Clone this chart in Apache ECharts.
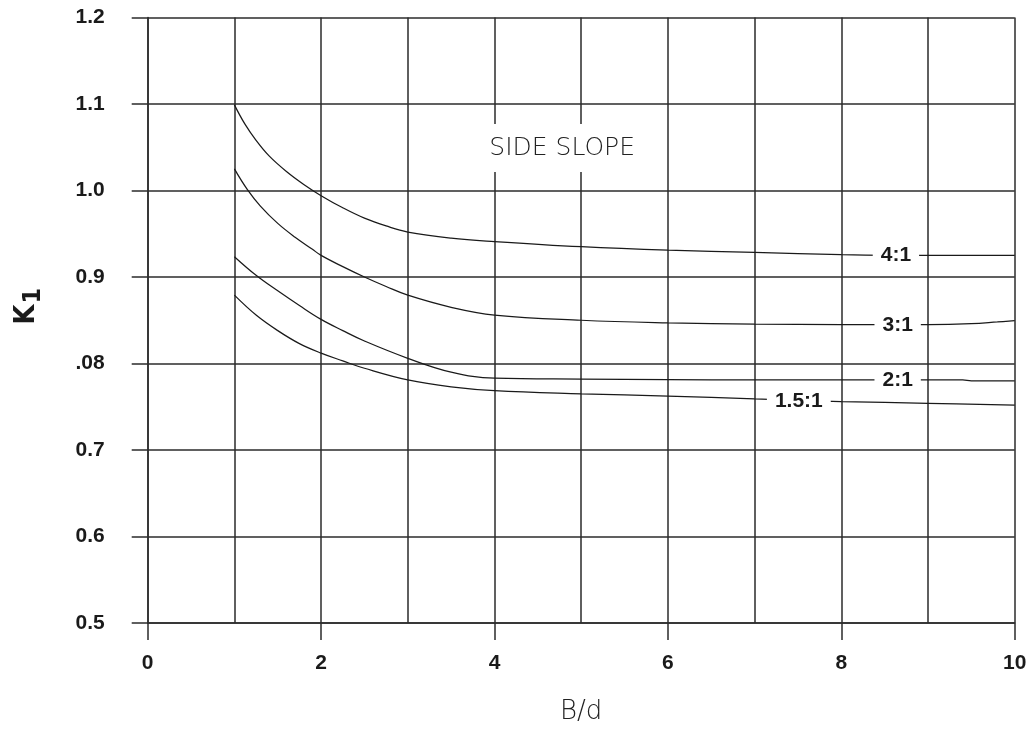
<!DOCTYPE html>
<html>
<head>
<meta charset="utf-8">
<title>K1 vs B/d</title>
<script src="https://cdn.jsdelivr.net/npm/echarts@6/dist/echarts.min.js"></script>
<style>
  html, body { margin: 0; padding: 0; background: #fff; }
  #chart { width: 1034px; height: 735px; }
</style>
</head>
<body>
<div id="chart"></div>
<script>
// Y tick labels, as printed on the chart (bottom to top)
const yTickLabels = ['0.5', '0.6', '0.7', '.08', '0.9', '1.0', '1.1', '1.2'];
const xTickLabels = ['0', '2', '4', '6', '8', '10'];

// K1 against B/d, one curve per side slope: [B/d, K1]
const slope4to1 = [
  [1, 1.099], [1.12, 1.077], [1.25, 1.058], [1.4, 1.040], [1.6, 1.022],
  [1.8, 1.007], [2, 0.994], [2.25, 0.980], [2.5, 0.968], [2.75, 0.959],
  [3, 0.952], [3.5, 0.945], [4, 0.941], [5, 0.935], [6, 0.931],
  [7, 0.9285], [8, 0.926], [9, 0.925], [10, 0.925]
];
const slope3to1 = [
  [1, 1.025], [1.15, 1.001], [1.3, 0.982], [1.5, 0.962], [1.7, 0.946],
  [1.9, 0.932], [2, 0.925], [2.25, 0.912], [2.5, 0.900], [2.75, 0.889],
  [3, 0.879], [3.5, 0.865], [4, 0.856], [5, 0.850], [6, 0.847],
  [7, 0.8455], [8, 0.845], [9, 0.845], [9.5, 0.846], [9.8, 0.848], [10, 0.8495]
];
const slope2to1 = [
  [1, 0.9235], [1.25, 0.902], [1.5, 0.884], [1.75, 0.867], [2, 0.851],
  [2.25, 0.838], [2.5, 0.826], [3, 0.806], [3.5, 0.790], [4, 0.783],
  [5, 0.782], [6, 0.7815], [7, 0.781], [9.4, 0.781], [9.5, 0.780], [10, 0.780]
];
const slope15to1 = [
  [1, 0.879], [1.25, 0.856], [1.5, 0.838], [1.75, 0.823], [2, 0.812],
  [2.25, 0.803], [2.5, 0.7945], [3, 0.781], [3.5, 0.773], [4, 0.7686],
  [5, 0.765], [6, 0.7624], [7, 0.759], [8, 0.756], [9, 0.754], [10, 0.752]
];

// Curve names and where each name sits on its curve
const slopeNames = ['4:1', '3:1', '2:1', '1.5:1'];
const slopeLabelAt = [[8.63, 0.925], [8.65, 0.8445], [8.65, 0.781], [7.51, 0.7565]];
const slopeCurves = [slope4to1, slope3to1, slope2to1, slope15to1];

const titleText = 'SIDE SLOPE';
const titleAt = [4.78, 1.049];

const INK = '#1a1a1a';
const GRID = '#2b2b2b';
const tickFont = { fontFamily: 'Liberation Sans, Arial, sans-serif', fontWeight: 'bold', fontSize: 21, color: '#1a1a1a' };
const thinFont = 'DejaVu Sans ExtraLight, DejaVu Sans, sans-serif';

const series = slopeCurves.map((curve, i) => {
  const s = {
    type: 'line',
    name: slopeNames[i],
    data: curve,
    symbol: 'none',
    smooth: 0.4,
    lineStyle: { color: INK, width: 1.25 },
    markPoint: {
      symbol: 'rect',
      symbolSize: 0,
      silent: true,
      label: {
        show: true,
        position: 'inside',
        formatter: '{b}',
        ...tickFont,
        backgroundColor: '#fff',
        padding: [3, 8, 2, 8]
      },
      data: [{ name: slopeNames[i], coord: slopeLabelAt[i] }]
    }
  };
  if (i === 0) {
    s.markPoint.data.push({
      name: titleText,
      coord: titleAt,
      label: {
        fontFamily: thinFont,
        fontWeight: 200,
        fontSize: 25,
        color: '#222',
        padding: [12, 10, 11, 10]
      }
    });
  }
  return s;
});

const chart = echarts.init(document.getElementById('chart'), null, { renderer: 'canvas' });
chart.setOption({
  animation: false,
  backgroundColor: '#fff',
  grid: { left: 147.7, right: 19.3, top: 17.5, bottom: 112, containLabel: false },
  xAxis: {
    type: 'value',
    min: 0,
    max: 10,
    interval: 2,
    name: 'B/d',
    nameLocation: 'middle',
    nameGap: 76,
    nameTextStyle: { fontFamily: thinFont, fontWeight: 200, fontSize: 26, color: '#222' },
    axisLine: { show: true, onZero: false, lineStyle: { color: GRID, width: 1.5 } },
    axisTick: { show: true, length: 17, lineStyle: { color: GRID, width: 1.5 } },
    axisLabel: {
      margin: 30,
      ...tickFont,
      formatter: (v) => xTickLabels[Math.round(v / 2)]
    },
    splitLine: { show: true, lineStyle: { color: GRID, width: 1.5 } },
    minorTick: { show: false, splitNumber: 2 },
    minorSplitLine: { show: true, lineStyle: { color: GRID, width: 1.5 } }
  },
  yAxis: {
    type: 'value',
    min: 0.5,
    max: 1.2,
    interval: 0.1,
    name: '{k|K}{s|1}',
    nameLocation: 'middle',
    nameRotate: 90,
    nameGap: 107,
    nameTextStyle: {
      padding: [0, 0, 0, 28],
      rich: {
        k: { fontFamily: 'Liberation Sans Narrow, DejaVu Sans Condensed, Arial, sans-serif', fontWeight: 'bold', fontSize: 29, color: '#1a1a1a', verticalAlign: 'bottom' },
        s: { fontFamily: 'Liberation Sans Narrow, DejaVu Sans Condensed, Arial, sans-serif', fontWeight: 'bold', fontSize: 25, color: '#1a1a1a', verticalAlign: 'bottom', padding: [0, 0, -5, 1] }
      }
    },
    axisLine: { show: true, onZero: false, lineStyle: { color: GRID, width: 1.5 } },
    axisTick: { show: true, length: 16, lineStyle: { color: GRID, width: 1.5 } },
    axisLabel: {
      margin: 43,
      ...tickFont,
      formatter: (v) => yTickLabels[Math.round((v - 0.5) / 0.1)]
    },
    splitLine: { show: true, lineStyle: { color: GRID, width: 1.5 } }
  },
  series: series
});
</script>
</body>
</html>
